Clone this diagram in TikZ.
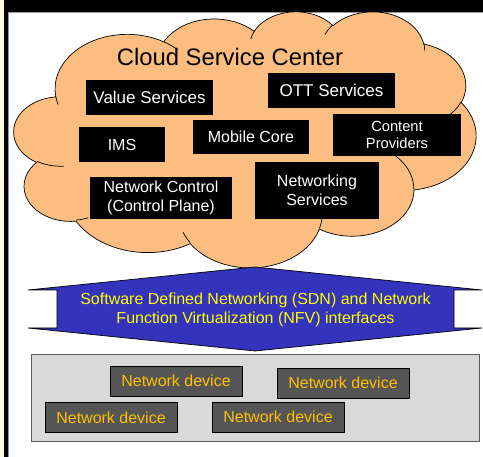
\documentclass[tikz,border=0pt]{standalone}
\usepackage{fontspec}
\setmainfont{Liberation Sans}

\definecolor{cloudfill}{RGB}{251,190,128}
\definecolor{sdnblue}{RGB}{51,51,187}
\definecolor{sdntext}{RGB}{255,255,0}
\definecolor{devfill}{RGB}{85,85,85}
\definecolor{devtext}{RGB}{255,192,0}
\definecolor{layerfill}{RGB}{217,217,217}
\definecolor{layerline}{RGB}{90,90,90}
\definecolor{creamstrip}{RGB}{255,253,222}
\definecolor{frameline}{RGB}{150,150,150}

% One elliptical arc of the cloud outline: radii in path units,
% start and sweep given as visual angles (degrees, y pointing down).
\newcommand\cloudseg[5]{%
  \pgfmathsetmacro\cldS{atan2((#2)*sin(#4),(#3)*cos(#4))}%
  \pgfmathsetmacro\cldE{atan2((#2)*sin((#4)+(#5)),(#3)*cos((#4)+(#5)))}%
  \pgfmathsetmacro\cldD{mod(\cldE-\cldS+720,360)}%
  \expandafter\xdef\csname #1\endcsname{arc[x radius=#2,y radius=#3,start angle=\cldS,delta angle=\cldD]}%
}

\tikzset{
  svcbox/.style={fill=black, text=white, align=center, inner sep=0pt,
    font=\fontsize{16}{19}\selectfont},
  devbox/.style={fill=devfill, draw=black, line width=0.7pt, text=devtext,
    inner sep=0pt, minimum width=132, minimum height=30,
    font=\fontsize{16}{19}\selectfont},
  outline/.style={draw=black, line width=0.7pt},
}

\begin{document}
\begin{tikzpicture}[x=1pt, y=-1pt]
\useasboundingbox (0,0) rectangle (483,457);

% slide frame
\fill[creamstrip] (0,0) rectangle (3.5,457);
\fill[black] (3.5,0) rectangle (7.5,457);
\fill[black] (3.5,0) rectangle (483,12);
\draw[frameline, line width=0.8pt] (7.9,457) -- (7.9,12.4) -- (483,12.4);

% cloud outline segments
\cloudseg{cloudarcA}{6.753}{9.190}{-190.48748}{123.78053}
\cloudseg{cloudarcB}{5.333}{7.267}{-144.10238}{89.94523}
\cloudseg{cloudarcC}{4.365}{5.945}{-145.80792}{99.72302}
\cloudseg{cloudarcD}{4.857}{6.595}{-130.98607}{117.24173}
\cloudseg{cloudarcE}{5.333}{7.273}{-78.70888}{109.02692}
\cloudseg{cloudarcF}{6.775}{9.220}{-46.26725}{130.269}
\cloudseg{cloudarcG}{5.785}{7.867}{0.62502}{114.03333}
\cloudseg{cloudarcH}{6.752}{9.215}{22.4516}{115.17255}
\cloudseg{cloudarcI}{7.720}{10.543}{66.24263}{75.71102}
\cloudseg{cloudarcJ}{4.360}{5.918}{-274.94208}{146.73557}
\cloudseg{cloudarcK}{4.345}{5.945}{-246.8285}{152.51885}
% inner crease lines
\cloudseg{creaseA}{4.345}{5.945}{86.742}{26.4295}
\cloudseg{creaseB}{4.360}{5.918}{73.61047}{11.44747}
\cloudseg{creaseC}{6.752}{9.215}{137.62415}{14.0811}
\cloudseg{creaseD}{6.752}{9.215}{6.45327}{15.99835}
\cloudseg{creaseE}{5.785}{7.867}{-70.29235}{70.91737}
\cloudseg{creaseF}{5.333}{7.273}{30.31803}{27.7515}
\cloudseg{creaseG}{4.857}{6.595}{-13.74433}{14.8589}
\cloudseg{creaseH}{4.857}{6.595}{-149.18145}{18.19537}
\cloudseg{creaseI}{4.365}{5.945}{-163.49427}{17.68635}
\cloudseg{creaseJ}{6.753}{9.190}{-66.70695}{12.31935}
\cloudseg{creaseK}{6.753}{9.190}{157.65435}{11.85817}

\begin{scope}[shift={(14,11)}, xscale=462/43.2, yscale=256/43.2]
  \fill[cloudfill] (3.9,14.37) \cloudarcA \cloudarcB \cloudarcC \cloudarcD
    \cloudarcE \cloudarcF \cloudarcG \cloudarcH \cloudarcI \cloudarcJ
    \cloudarcK -- cycle;
  \draw[outline] (3.9,14.37) \cloudarcA \cloudarcB \cloudarcC \cloudarcD
    \cloudarcE \cloudarcF \cloudarcG \cloudarcH \cloudarcI \cloudarcJ
    \cloudarcK -- cycle;
  \draw[outline] (4.693,26.177) \creaseA (6.928,34.899) \creaseB
    (16.478,39.090) \creaseC (28.827,34.751) \creaseD
    (34.129,22.954) \creaseE (41.798,15.354) \creaseF
    (38.324,5.426) \creaseG (29.078,3.952) \creaseH
    (22.141,4.720) \creaseI (14.000,5.192) \creaseJ
    (4.127,15.789) \creaseK;
\end{scope}

\node[font=\fontsize{23.8}{28}\selectfont] (title) at (230,57) {Cloud Service Center};

\node[svcbox, minimum width=127, minimum height=35, font=\fontsize{17}{20}\selectfont]
  (value) at (149.5,97.5) {Value Services};
\node[svcbox, minimum width=127, minimum height=35, font=\fontsize{17}{20}\selectfont]
  (ott) at (331.5,90.5) {OTT Services};
\node[svcbox, minimum width=86, minimum height=35] (ims) at (122,144.5) {IMS};
\node[svcbox, minimum width=116, minimum height=34] (mobile) at (251,137) {Mobile Core};
\node[svcbox, minimum width=128, minimum height=42, font=\fontsize{14.7}{16.5}\selectfont]
  (content) at (397,135) {Content\\Providers};
\node[svcbox, minimum width=142, minimum height=42] (control) at (161,198)
  {Network Control\\(Control Plane)};
\node[svcbox, minimum width=124, minimum height=57] (netsvc) at (317,190.5)
  {Networking\\Services};

% SDN / NFV double arrow
\filldraw[fill=sdnblue, outline] (255,267) -- (28,290) -- (57,290) -- (57,328)
  -- (28,328) -- (255,351) -- (482,328) -- (454,328) -- (454,290)
  -- (482,290) -- cycle;
\node[text=sdntext, align=center, font=\fontsize{16}{19}\selectfont] (sdn) at (255.5,309.5)
  {Software Defined Networking (SDN) and Network\\Function Virtualization (NFV) interfaces};

% device layer
\filldraw[fill=layerfill, draw=layerline, line width=0.7pt] (31,354) rectangle (479,441);
\node[devbox] (dev1) at (176,381) {Network device};
\node[devbox] (dev2) at (343,383) {Network device};
\node[devbox] (dev3) at (111,417.5) {Network device};
\node[devbox] (dev4) at (278,417) {Network device};
\end{tikzpicture}
\end{document}
